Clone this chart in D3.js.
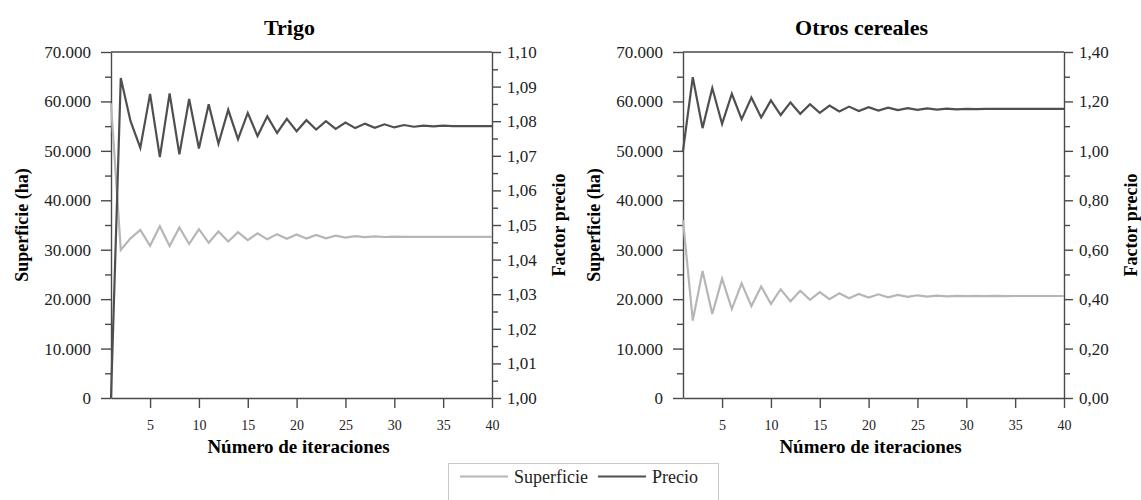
<!DOCTYPE html>
<html>
<head>
<meta charset="utf-8">
<script src="https://cdn.jsdelivr.net/npm/d3@7"></script>
<style>
  body { margin: 0; background: #fff; }
  svg text { font-family: "Liberation Serif", "Times New Roman", serif; }
</style>
</head>
<body>
<div id="chart"></div>
<script>

// iteraciones (eje x)
var iteraciones = [1,2,3,4,5,6,7,8,9,10,11,12,13,14,15,16,17,18,19,20,
                   21,22,23,24,25,26,27,28,29,30,31,32,33,34,35,36,37,38,39,40];

// Trigo
var trigoSuperficie = [59600,29960,32300,34000,30800,34750,30750,34500,31150,34150,
                       31400,33700,31650,33550,31950,33330,32100,33150,32200,33100,
                       32250,33000,32320,32860,32460,32740,32530,32680,32570,32640,
                       32580,32620,32590,32610,32600,32600,32600,32600,32600,32600];
var trigoPrecio = [1.0000,1.0925,1.0800,1.0723,1.0879,1.0696,1.0880,1.0704,1.0864,1.0721,
                   1.0849,1.0735,1.0833,1.0748,1.0824,1.0757,1.0814,1.0766,1.0807,1.0771,
                   1.0803,1.0776,1.0800,1.0778,1.0796,1.0780,1.0793,1.0781,1.0791,1.0782,
                   1.0789,1.0784,1.0787,1.0785,1.0787,1.0786,1.0786,1.0786,1.0786,1.0786];

// Otros cereales
var otrosSuperficie = [36000,15650,25700,17000,24150,18000,23200,18600,22550,19050,
                       22000,19550,21700,19850,21400,20000,21200,20180,21030,20310,
                       20980,20380,20850,20450,20780,20500,20720,20560,20680,20600,
                       20660,20620,20650,20630,20640,20640,20640,20640,20640,20640];
var otrosPrecio = [1.000,1.298,1.092,1.254,1.109,1.231,1.128,1.216,1.135,1.204,
                   1.145,1.196,1.150,1.189,1.154,1.183,1.159,1.179,1.161,1.177,
                   1.163,1.175,1.165,1.173,1.166,1.172,1.167,1.171,1.168,1.170,
                   1.169,1.170,1.170,1.170,1.170,1.170,1.170,1.170,1.170,1.170];

// ticks
var xTicks = [5,10,15,20,25,30,35,40];
var supTicks = [0,10000,20000,30000,40000,50000,60000,70000];
var supMinor = [5000,15000,25000,35000,45000,55000,65000];
var trigoPrecioTicks = [1.00,1.01,1.02,1.03,1.04,1.05,1.06,1.07,1.08,1.09,1.10];
var trigoPrecioMinor = [1.005,1.015,1.025,1.035,1.045,1.055,1.065,1.075,1.085,1.095];
var otrosPrecioTicks = [0,0.2,0.4,0.6,0.8,1.0,1.2,1.4];
var otrosPrecioMinor = [0.1,0.3,0.5,0.7,0.9,1.1,1.3];

var series = ["Superficie", "Precio"];
var colors = { sup: "#b6b6b6", precio: "#4f4f4f", axis: "#4a4a4a" };

var locale = d3.formatLocale({ decimal: ",", thousands: ".", grouping: [3], currency: ["", ""] });
var fmtSup = locale.format(",.0f");
var fmtPrecio = locale.format(".2f");

var width = 1141, height = 500;
var plotTop = 52, plotBottom = 398;

var svg = d3.select("#chart").append("svg")
    .attr("width", width)
    .attr("height", height);

function drawPanel(cfg) {

    var x = d3.scaleLinear().domain([1, 40]).range([cfg.left, cfg.right]);
    var yL = d3.scaleLinear().domain([0, 70000]).range([plotBottom, plotTop]);
    var yR = d3.scaleLinear().domain(cfg.precioDomain).range([plotBottom, plotTop]);

    var g = svg.append("g");

    function styleAxis(a) {
        a.selectAll("path, line").attr("stroke", colors.axis).attr("stroke-width", 1.4);
        a.selectAll("text").attr("fill", "#222").style("font-family", '"Liberation Serif", serif');
    }

    // borde superior
    g.append("line")
        .attr("x1", x(1)).attr("x2", x(40))
        .attr("y1", plotTop).attr("y2", plotTop)
        .attr("stroke", colors.axis).attr("stroke-width", 1.4);

    // eje x
    g.append("g")
        .attr("transform", "translate(0," + plotBottom + ")")
        .style("font-size", "14px")
        .call(d3.axisBottom(x).tickValues(xTicks).tickSizeInner(10).tickSizeOuter(0).tickPadding(12))
        .call(styleAxis);

    // eje izquierdo (superficie)
    g.append("g")
        .attr("transform", "translate(" + cfg.left + ",0)")
        .style("font-size", "17px")
        .call(d3.axisLeft(yL).tickValues(supTicks).tickFormat(fmtSup).tickSizeInner(10).tickSizeOuter(0).tickPadding(10))
        .call(styleAxis);
    g.append("g")
        .attr("transform", "translate(" + cfg.left + ",0)")
        .call(d3.axisLeft(yL).tickValues(supMinor).tickFormat("").tickSize(6))
        .call(function(a){ a.select(".domain").remove(); })
        .call(styleAxis);

    // eje derecho (precio)
    g.append("g")
        .attr("transform", "translate(" + cfg.right + ",0)")
        .style("font-size", "17px")
        .call(d3.axisRight(yR).tickValues(cfg.precioTicks).tickFormat(fmtPrecio).tickSizeInner(9).tickSizeOuter(0).tickPadding(6))
        .call(styleAxis);
    g.append("g")
        .attr("transform", "translate(" + cfg.right + ",0)")
        .call(d3.axisRight(yR).tickValues(cfg.precioMinor).tickFormat("").tickSize(6))
        .call(function(a){ a.select(".domain").remove(); })
        .call(styleAxis);

    // lineas
    var lineSup = d3.line()
        .x(function(d, i){ return x(iteraciones[i]); })
        .y(function(d){ return yL(d); });
    var linePrecio = d3.line()
        .x(function(d, i){ return x(iteraciones[i]); })
        .y(function(d){ return yR(d); });

    g.append("path")
        .datum(cfg.superficie)
        .attr("fill", "none")
        .attr("stroke", colors.sup)
        .attr("stroke-width", 2.2)
        .attr("d", lineSup);

    g.append("path")
        .datum(cfg.precio)
        .attr("fill", "none")
        .attr("stroke", colors.precio)
        .attr("stroke-width", 2.2)
        .attr("d", linePrecio);

    var cx = (cfg.left + cfg.right) / 2;

    // titulo
    g.append("text")
        .attr("x", cx - 12).attr("y", 35)
        .attr("text-anchor", "middle")
        .style("font-size", "22px").style("font-weight", "bold")
        .text(cfg.title);

    // titulos de ejes
    g.append("text")
        .attr("x", cx - 3).attr("y", 453)
        .attr("text-anchor", "middle")
        .style("font-size", "19px").style("font-weight", "bold")
        .text("Número de iteraciones");

    g.append("text")
        .attr("transform", "translate(" + (cfg.left - 83) + "," + ((plotTop + plotBottom) / 2) + ") rotate(-90)")
        .attr("text-anchor", "middle")
        .style("font-size", "18px").style("font-weight", "bold")
        .text("Superficie (ha)");

    g.append("text")
        .attr("transform", "translate(" + (cfg.right + 73) + "," + ((plotTop + plotBottom) / 2) + ") rotate(-90)")
        .attr("text-anchor", "middle")
        .style("font-size", "18px").style("font-weight", "bold")
        .text("Factor precio");
}

drawPanel({
    title: "Trigo", left: 111, right: 492,
    precioDomain: [1.00, 1.10], precioTicks: trigoPrecioTicks, precioMinor: trigoPrecioMinor,
    superficie: trigoSuperficie, precio: trigoPrecio
});

drawPanel({
    title: "Otros cereales", left: 683, right: 1064,
    precioDomain: [0, 1.40], precioTicks: otrosPrecioTicks, precioMinor: otrosPrecioMinor,
    superficie: otrosSuperficie, precio: otrosPrecio
});

// leyenda
var legend = svg.append("g");
legend.append("rect")
    .attr("x", 448.5).attr("y", 463.5)
    .attr("width", 270).attr("height", 45)
    .attr("fill", "#fff")
    .attr("stroke", "#c8c8c8");

var legendItems = legend.selectAll(".item")
    .data(series)
    .enter().append("g")
    .attr("class", "item")
    .attr("transform", function(d, i){ return "translate(" + (460 + i * 138) + ",476.5)"; });

legendItems.append("line")
    .attr("x1", 0).attr("x2", 48)
    .attr("stroke", function(d, i){ return i == 0 ? colors.sup : colors.precio; })
    .attr("stroke-width", 2);

legendItems.append("text")
    .attr("x", 54).attr("y", 6)
    .style("font-size", "18px")
    .attr("fill", "#222")
    .text(function(d){ return d; });

</script>
</body>
</html>
